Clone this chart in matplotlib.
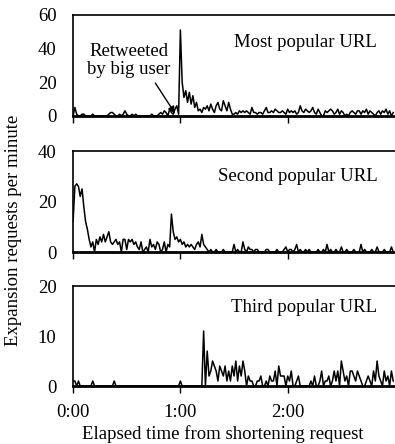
import numpy as np
import matplotlib
matplotlib.use("Agg")
import matplotlib.pyplot as plt

# requests per minute, minutes 0..179
most_popular = [
    0, 5, 1, 0, 0, 1, 1, 0, 0, 0,
    0, 1, 0, 0, 0, 0, 0, 0, 0, 0,
    1, 2, 2, 1, 0, 0, 1, 0, 1, 3,
    1, 0, 0, 1, 0, 1, 0, 0, 0, 0,
    0, 0, 0, 0, 1, 0, 0, 0, 1, 2,
    1, 3, 2, 0, 4, 2, 1, 4, 6, 1,
    51, 20, 11, 15, 8, 14, 7, 12, 5, 8,
    3, 4, 2, 5, 4, 6, 3, 7, 4, 2,
    6, 8, 4, 3, 9, 6, 3, 8, 4, 1,
    1, 2, 1, 3, 2, 3, 2, 3, 2, 1,
    5, 2, 2, 1, 2, 2, 1, 3, 5, 2,
    2, 3, 2, 4, 3, 2, 2, 3, 2, 1,
    4, 2, 3, 2, 3, 1, 2, 6, 3, 2,
    4, 3, 2, 3, 5, 2, 1, 4, 2, 0,
    0, 3, 2, 3, 4, 3, 1, 2, 4, 1,
    3, 2, 0, 1, 0, 2, 3, 2, 1, 3,
    3, 1, 3, 2, 4, 1, 3, 2, 1, 0,
    2, 3, 1, 3, 2, 4, 1, 3, 0, 2,
]
second_popular = [
    12, 26, 27, 26, 22, 25, 18, 12, 9, 5,
    2, 4, 0, 5, 3, 6, 4, 7, 4, 6,
    8, 4, 3, 4, 5, 3, 4, 0, 5, 5,
    1, 5, 4, 5, 3, 4, 2, 1, 4, 0,
    1, 2, 0, 5, 2, 3, 1, 4, 3, 0,
    1, 4, 0, 3, 2, 15, 8, 5, 6, 4,
    5, 3, 4, 2, 3, 2, 3, 2, 1, 3,
    4, 2, 7, 3, 2, 1, 0, 1, 0, 0,
    1, 0, 0, 0, 1, 0, 0, 0, 0, 0,
    3, 0, 1, 0, 0, 4, 1, 0, 2, 1,
    1, 0, 1, 1, 0, 0, 0, 0, 1, 1,
    0, 0, 0, 0, 1, 0, 0, 0, 1, 2,
    0, 1, 1, 0, 1, 3, 0, 1, 0, 0,
    1, 0, 1, 0, 0, 0, 0, 1, 0, 0,
    1, 0, 3, 0, 1, 0, 0, 1, 0, 0,
    2, 0, 0, 1, 0, 0, 0, 1, 0, 0,
    0, 3, 0, 1, 0, 0, 0, 1, 0, 0,
    2, 0, 0, 0, 1, 0, 0, 0, 2, 0,
]
third_popular = [
    1, 1, 0, 1, 0, 0, 0, 0, 0, 0,
    0, 1, 0, 0, 0, 0, 0, 0, 0, 0,
    0, 0, 0, 1, 0, 0, 0, 0, 0, 0,
    0, 0, 0, 0, 0, 0, 0, 0, 0, 0,
    0, 0, 0, 0, 0, 0, 0, 0, 0, 0,
    0, 0, 0, 0, 0, 0, 0, 0, 0, 0,
    1, 0, 0, 0, 0, 0, 0, 0, 0, 0,
    0, 0, 0, 11, 0, 7, 2, 3, 5, 4,
    3, 1, 4, 3, 2, 4, 1, 3, 1, 4,
    2, 5, 1, 4, 2, 5, 3, 0, 2, 1,
    1, 0, 0, 1, 1, 2, 0, 0, 1, 0,
    2, 1, 1, 3, 0, 4, 2, 2, 2, 0,
    2, 1, 3, 0, 0, 1, 2, 0, 0, 0,
    0, 0, 0, 1, 0, 2, 0, 0, 1, 3,
    0, 1, 1, 2, 0, 1, 3, 1, 3, 0,
    5, 3, 1, 2, 0, 3, 3, 2, 1, 3,
    2, 1, 0, 0, 1, 2, 1, 0, 3, 1,
    5, 2, 1, 0, 3, 1, 2, 0, 3, 1,
]
series = [most_popular, second_popular, third_popular]
labels = ["Most popular URL", "Second popular URL", "Third popular URL"]
ymaxes = [60, 40, 20]
yticks = [[0, 20, 40, 60], [0, 20, 40], [0, 10, 20]]
xtick_pos = [0, 60, 120]
xtick_labels = ["0:00", "1:00", "2:00"]

plt.rcParams['font.family'] = ['Liberation Serif', 'DejaVu Serif']
plt.rcParams['font.size'] = 13.5

fig = plt.figure(figsize=(3.95, 4.44), dpi=100)
# posições dos painéis (esquerda, baixo, largura, altura)
boxes = [(0.185, 0.739, 0.815, 0.2275),
         (0.185, 0.4324, 0.815, 0.2275),
         (0.185, 0.1306, 0.815, 0.2252)]
label_y = [0.73, 0.75, 0.79]

minutes = np.arange(len(most_popular))
for i, box in enumerate(boxes):
    ax = fig.add_axes(box)
    ax.plot(minutes, series[i], color='black', lw=1.1)
    ax.set_xlim(0, 180)
    ax.set_ylim(0, ymaxes[i])
    ax.set_yticks(yticks[i])
    ax.set_xticks(xtick_pos)
    if i == 2:
        ax.set_xticklabels(xtick_labels)
    else:
        ax.set_xticklabels([])
    ax.tick_params(axis='y', length=0, pad=12)
    ax.tick_params(axis='x', direction='out', length=5, width=1, pad=8)
    ax.spines['right'].set_visible(False)
    ax.spines['bottom'].set_linewidth(2)
    ax.spines['left'].set_linewidth(1.2)
    ax.spines['top'].set_linewidth(1.2)
    ax.text(0.945, label_y[i], labels[i], transform=ax.transAxes,
            ha='right', va='center')
    if i == 0:
        ax.text(31, 43, "Retweeted\nby big user", ha='center', va='top',
                linespacing=1.05)
        ax.annotate("", xy=(57, 1.5), xytext=(46, 19.5),
                    arrowprops=dict(arrowstyle='-|>', color='black', lw=1,
                                    shrinkA=0, shrinkB=0,
                                    mutation_scale=10))

fig.text(0.035, 0.482, "Expansion requests per minute", rotation=90,
         ha='center', va='center')
fig.text(0.565, 0.022, "Elapsed time from shortening request",
         ha='center', va='center')

fig.savefig("out.png", dpi=100)
